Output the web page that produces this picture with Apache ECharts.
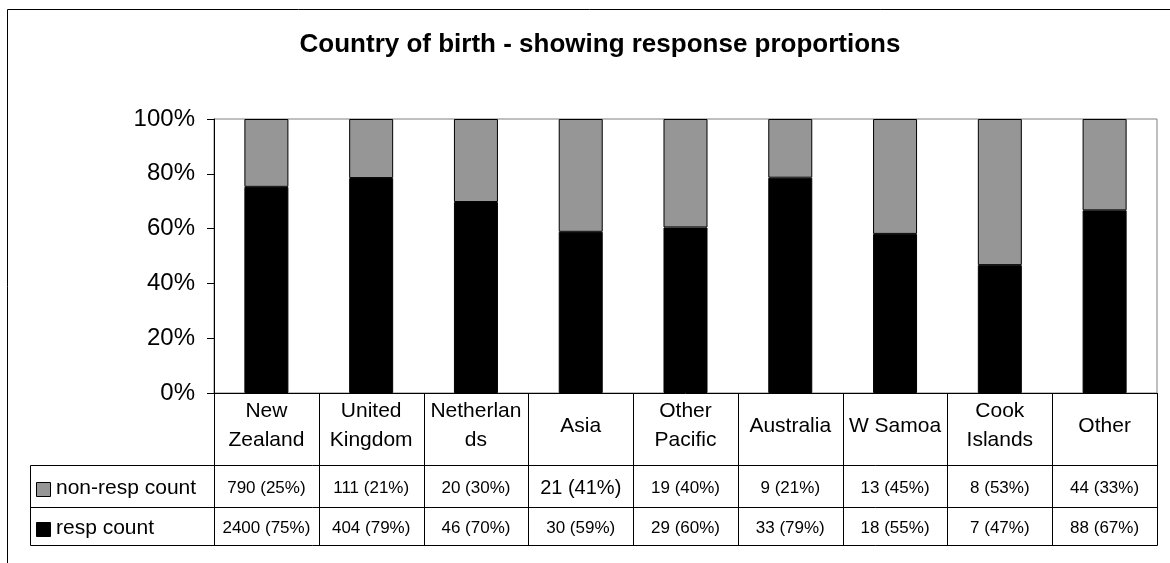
<!DOCTYPE html>
<html><head><meta charset="utf-8">
<script src="https://cdn.jsdelivr.net/npm/echarts@6/dist/echarts.min.js"></script>
<style>html,body{margin:0;padding:0;background:#fff}#c{width:1170px;height:563px}</style>
</head><body><div id="c"></div>
<script>
const categories = ['New\nZealand','United\nKingdom','Netherlan\nds','Asia','Other\nPacific','Australia','W Samoa','Cook\nIslands','Other'];
const respCount = [2400, 404, 46, 30, 29, 33, 18, 7, 88];
const nonRespCount = [790, 111, 20, 21, 19, 9, 13, 8, 44];
const respPctLabel = ['75%','79%','70%','59%','60%','79%','55%','47%','67%'];
const nonRespPctLabel = ['25%','21%','30%','41%','40%','21%','45%','53%','33%'];
const seriesNames = ['non-resp count', 'resp count'];
const titleText = 'Country of birth - showing response proportions';

const FONT = '"Liberation Sans", Arial, sans-serif';
const GREY = '#969696';

const respShare = respCount.map((v, i) => v / (v + nonRespCount[i]) * 100);
const nonRespShare = nonRespCount.map((v, i) => v / (v + respCount[i]) * 100);

const chart = echarts.init(document.getElementById('c'), null, {renderer: 'canvas'});
const option = {
  animation: false,
  backgroundColor: '#fff',
  textStyle: {fontFamily: FONT, color: '#000'},
  grid: {left: 214, right: 13, top: 119, bottom: 170, show: true, borderColor: '#808080', borderWidth: 1, backgroundColor: 'transparent'},
  xAxis: {
    type: 'category', data: categories,
    axisLine: {lineStyle: {color: '#000', width: 1}},
    axisTick: {show: false},
    axisLabel: {interval: 0, fontSize: 21, lineHeight: 29, color: '#000', fontFamily: FONT, margin: 33, verticalAlign: 'middle'}
  },
  yAxis: {
    type: 'value', min: 0, max: 100, interval: 20,
    axisLine: {show: true, lineStyle: {color: '#000', width: 1}},
    axisTick: {show: true, length: 7, lineStyle: {color: '#000'}},
    axisLabel: {formatter: '{value}%', fontSize: 24, color: '#000', fontFamily: FONT, margin: 19},
    splitLine: {show: false}
  },
  series: [
    {name: seriesNames[1], type: 'bar', stack: 'all', data: respShare, barWidth: '42%',
     itemStyle: {color: '#000', borderColor: '#000', borderWidth: 1}},
    {name: seriesNames[0], type: 'bar', stack: 'all', data: nonRespShare, barWidth: '42%',
     itemStyle: {color: GREY, borderColor: '#000', borderWidth: 1}}
  ]
};
chart.setOption(option);

// Build the data table under the axis, aligned to the category bands
const c0 = chart.convertToPixel({xAxisIndex: 0}, 0);
const c1 = chart.convertToPixel({xAxisIndex: 0}, 1);
const band = c1 - c0;
const axisY = chart.convertToPixel({yAxisIndex: 0}, 0);
const leftEdge = c0 - band / 2;
const n = categories.length;
const rightEdge = leftEdge + band * n;
const tableLeft = 30;
const row1Top = 465, row2Top = 507, tableBottom = 545;
const row1Mid = 488, row2Mid = 528;

const g = [];
const L = (x1, y1, x2, y2) => g.push({type: 'line', silent: true, z: 10,
  shape: {x1: x1, y1: y1, x2: x2, y2: y2}, style: {stroke: '#000', lineWidth: 1}});

// outer chart frame (clipped at right/bottom like the reference)
g.push({type: 'rect', silent: true, z: 1, shape: {x: 7.5, y: 9.5, width: 1400, height: 800},
  style: {fill: 'none', stroke: '#000', lineWidth: 1}});

[row1Top, row2Top, tableBottom].forEach(y => L(tableLeft + 0.5, y + 0.5, Math.round(rightEdge) + 0.5, y + 0.5));
L(tableLeft + 0.5, row1Top + 0.5, tableLeft + 0.5, tableBottom + 0.5);
for (let k = 0; k <= n; k++) {
  const x = Math.round(leftEdge + k * band) + 0.5;
  L(x, axisY, x, tableBottom + 0.5);
}
// legend keys
g.push({type: 'rect', z: 10, shape: {x: 36.5, y: 482.5, width: 14, height: 14}, style: {fill: GREY, stroke: '#000', lineWidth: 1}});
g.push({type: 'rect', z: 10, shape: {x: 36.5, y: 522.5, width: 14, height: 14}, style: {fill: '#000', stroke: '#000', lineWidth: 1}});
g.push({type: 'text', z: 10, x: 56, y: row1Mid, style: {text: seriesNames[0], font: '21px ' + FONT, fill: '#000', textAlign: 'left', textVerticalAlign: 'middle'}});
g.push({type: 'text', z: 10, x: 56, y: row2Mid, style: {text: seriesNames[1], font: '21px ' + FONT, fill: '#000', textAlign: 'left', textVerticalAlign: 'middle'}});
// value cells
for (let i = 0; i < n; i++) {
  const cx = leftEdge + (i + 0.5) * band;
  const big = (i === 3);
  g.push({type: 'text', z: 10, x: cx, y: row1Mid, style: {text: nonRespCount[i] + ' (' + nonRespPctLabel[i] + ')',
    font: (big ? '20px ' : '17px ') + FONT, fill: '#000', textAlign: 'center', textVerticalAlign: 'middle'}});
  g.push({type: 'text', z: 10, x: cx, y: row2Mid, style: {text: respCount[i] + ' (' + respPctLabel[i] + ')',
    font: '17px ' + FONT, fill: '#000', textAlign: 'center', textVerticalAlign: 'middle'}});
}
// title
g.push({type: 'text', z: 10, x: 600, y: 45, style: {text: titleText, font: 'bold 26px ' + FONT, fill: '#000', textAlign: 'center', textVerticalAlign: 'middle'}});

chart.setOption({graphic: {elements: g}});
</script>
</body></html>
